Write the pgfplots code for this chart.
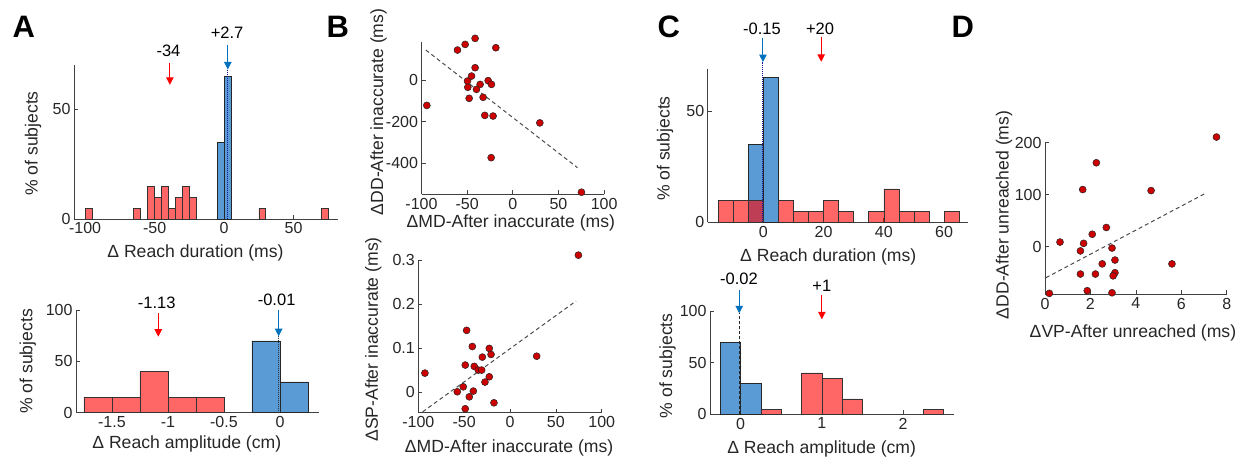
\documentclass[border=0pt]{standalone}
\usepackage{fontspec}
\setmainfont{Liberation Sans}
\usepackage{pgfplots}
\pgfplotsset{compat=1.18}
\usetikzlibrary{arrows.meta}

\definecolor{mred}{RGB}{255,0,0}
\definecolor{mblue}{RGB}{0,114,189}
\definecolor{barblue}{RGB}{91,155,213}
\definecolor{dotred}{RGB}{204,0,0}
\definecolor{navy}{RGB}{20,20,160}
\newcommand\fs{\fontsize{16}{19}\selectfont}
\newcommand\fl{\fontsize{17.6}{20}\selectfont}
\newcommand\fa{\fontsize{16.5}{19}\selectfont}

\tikzset{
  rarrow/.style={mred, line width=1pt, -{Triangle[width=7.5pt,length=7.5pt]}},
  barrow/.style={mblue, line width=1pt, -{Triangle[width=7.5pt,length=7.5pt]}},
  meanline/.style={navy, line width=1pt, densely dotted},
}
\pgfplotsset{
  base/.style={
    scale only axis,
    anchor=south west,
    axis x line*=bottom, axis y line*=left,
    axis line style={black!75, line width=0.7pt},
    tick style={black!75, line width=0.7pt},
    tick align=inside,
    major tick length=4pt,
    tick label style={font=\fs, color=black!85},
    label style={font=\fl, color=black!85},
    /pgf/number format/assume math mode=true,
    clip=false,
  },
  redbar/.style={ybar, bar shift=0pt, fill=mred, fill opacity=0.6, draw=black!80, line width=0.6pt},
  bluebar/.style={ybar, bar shift=0pt, fill=barblue, draw=black!85, line width=0.6pt},
  dots/.style={only marks, mark=*, mark size=3.5pt, mark options={fill=dotred, draw=black!85, line width=0.5pt}},
  fit/.style={no marks, dash pattern=on 4pt off 3pt, color=black!70, line width=1pt},
}

\begin{document}
\begin{tikzpicture}
\path[use as bounding box] (0,0) rectangle (1241pt,-459pt);

\node[anchor=base west, font=\fontsize{31}{31}\selectfont\bfseries] at (9pt,-37pt) {A};
\node[anchor=base west, font=\fontsize{31}{31}\selectfont\bfseries] at (323pt,-37pt) {B};
\node[anchor=base west, font=\fontsize{31}{31}\selectfont\bfseries] at (654pt,-37pt) {C};
\node[anchor=base west, font=\fontsize{31}{31}\selectfont\bfseries] at (948pt,-37pt) {D};

% ---------- A top
\begin{axis}[base, at={(74pt,-219pt)}, width=264pt, height=154pt,
  xmin=-108, xmax=82, ymin=0, ymax=70,
  xtick={-100,-50,0,50}, ytick={0,50},
  xlabel={Δ Reach duration (ms)}, ylabel={\% of subjects},
  xlabel style={at={(axis description cs:0.46,-0.22)}, anchor=center},
  ylabel style={at={(axis description cs:-0.155,0.49)}, anchor=center}]
\addplot[bluebar, bar width=5] coordinates {(-2.5,35) (2.5,65)};
\addplot[redbar, bar width=5] coordinates {(-97.5,5) (-62.5,5) (-52.5,15) (-47.5,10) (-42.5,15) (-37.5,5) (-32.5,10) (-27.5,15) (-22.5,10) (27.5,5) (72.5,5)};
\draw[meanline] (axis cs:2.7,0) -- (axis cs:2.7,68);
\draw[rarrow] (axis cs:-39,71) -- (axis cs:-39,61);
\draw[barrow] (axis cs:2.7,79) -- (axis cs:2.7,68);
\node[anchor=base, font=\fa] at (axis cs:-40,74) {-34};
\node[anchor=base, font=\fa] at (axis cs:2.2,82) {+2.7};
\end{axis}

% ---------- A bottom
\begin{axis}[base, at={(76pt,-412.7pt)}, width=243pt, height=102.7pt,
  xmin=-1.82, xmax=0.348, ymin=0, ymax=100,
  xtick={-1.5,-1,-0.5,0}, ytick={0,50,100},
  xlabel={Δ Reach amplitude (cm)}, ylabel={\% of subjects},
  xlabel style={at={(axis description cs:0.456,-0.305)}, anchor=center},
  ylabel style={at={(axis description cs:-0.198,0.5)}, anchor=center}]
\addplot[bluebar, bar width=0.25] coordinates {(-0.125,70) (0.125,30)};
\addplot[redbar, bar width=0.25] coordinates {(-1.625,15) (-1.375,15) (-1.125,40) (-0.875,15) (-0.625,15)};
\draw[black!80, line width=1pt, densely dotted] (axis cs:-0.012,0) -- (axis cs:-0.012,75);
\draw[rarrow] (axis cs:-1.086,97) -- (axis cs:-1.086,74);
\draw[barrow] (axis cs:-0.012,100) -- (axis cs:-0.012,74.5);
\node[anchor=base, font=\fa] at (axis cs:-1.1,101) {-1.13};
\node[anchor=base, font=\fa] at (axis cs:-0.03,104) {-0.01};
\end{axis}

% ---------- B top
\begin{axis}[base, at={(421.5pt,-194.3pt)}, width=182.6pt, height=152.6pt,
  xmin=-100, xmax=100, ymin=-549, ymax=184,
  xtick={-100,-50,0,50,100}, ytick={-400,-200,0},
  xlabel={ΔMD-After inaccurate (ms)}, ylabel={ΔDD-After inaccurate (ms)},
  xlabel style={at={(axis description cs:0.489,-0.19)}, anchor=center},
  ylabel style={at={(axis description cs:-0.235,0.54)}, anchor=center}]
\addplot[fit] coordinates {(-95.3,144) (70.8,-421)};
\addplot[dots] coordinates {
(-60.6,144) (-52.2,171) (-41.3,200) (-18.6,155) (-41.3,59) (-45.2,19)
(-49.6,-5) (-27,-3) (-49.3,-35) (-35.8,-21) (-39.8,-45) (-23.4,-21)
(-47.8,-88) (-32.5,-83) (-94.2,-122) (-30.7,-170) (-21.6,-173)
(29.6,-206) (-23.7,-373) (75.2,-539)};
\end{axis}

% ---------- B bottom
\begin{axis}[base, at={(418.3pt,-412.7pt)}, width=183.4pt, height=152.7pt,
  xmin=-100, xmax=100, ymin=-0.046, ymax=0.3,
  xtick={-100,-50,0,50,100}, ytick={0,0.1,0.2,0.3},
  xlabel={ΔMD-After inaccurate (ms)}, ylabel={ΔSP-After inaccurate (ms)},
  xlabel style={at={(axis description cs:0.495,-0.231)}, anchor=center},
  ylabel style={at={(axis description cs:-0.245,0.48)}, anchor=center}]
\addplot[fit] coordinates {(-95.3,-0.044) (72,0.207)};
\addplot[dots] coordinates {
(74.6,0.311) (-47.3,0.1406) (-41.1,0.104) (-22.6,0.0997) (-20.7,0.086)
(-30.2,0.080) (29.1,0.082) (-48.8,0.062) (-39,0.059) (-34.6,0.0506)
(-30.9,0.0506) (-92.8,0.0437) (-22.6,0.0354) (-27.3,0.0234) (-51,0.0127)
(-57.5,0.0015) (-40,0.003) (-44.4,-0.010) (-17.5,-0.0235) (-48.8,-0.037)};
\end{axis}

% ---------- C top
\begin{axis}[base, at={(707.7pt,-222.3pt)}, width=260.4pt, height=153.6pt,
  xmin=-18.5, xmax=68, ymin=0, ymax=69,
  xtick={0,20,40,60}, ytick={0,50},
  xlabel={Δ Reach duration (ms)}, ylabel={\% of subjects},
  xlabel style={at={(axis description cs:0.463,-0.224)}, anchor=center},
  ylabel style={at={(axis description cs:-0.164,0.48)}, anchor=center}]
\addplot[bluebar, bar width=5] coordinates {(-2.5,35) (2.5,65)};
\addplot[redbar, bar width=5] coordinates {(-12.5,10) (-7.5,10) (-2.5,10) (7.5,10) (12.5,5) (17.5,5) (22.5,10) (27.5,5) (37.5,5) (42.5,15) (47.5,5) (52.5,5) (62.5,5)};
\draw[meanline] (axis cs:-0.15,0) -- (axis cs:-0.15,72);
\draw[barrow] (axis cs:-0.15,82.7) -- (axis cs:-0.15,72);
\draw[rarrow] (axis cs:19.2,83.4) -- (axis cs:19.2,72.1);
\node[anchor=base, font=\fa] at (axis cs:-0.5,84.5) {-0.15};
\node[anchor=base, font=\fa] at (axis cs:18.8,84.5) {+20};
\end{axis}

% ---------- C bottom
\begin{axis}[base, at={(710pt,-414.3pt)}, width=244.3pt, height=103.3pt,
  xmin=-0.377, xmax=2.63, ymin=0, ymax=100,
  xtick={0,1,2}, ytick={0,50,100},
  xlabel={Δ Reach amplitude (cm)}, ylabel={\% of subjects},
  xlabel style={at={(axis description cs:0.457,-0.336)}, anchor=center},
  ylabel style={at={(axis description cs:-0.174,0.47)}, anchor=center}]
\addplot[bluebar, bar width=0.25] coordinates {(-0.125,70) (0.125,30)};
\addplot[redbar, bar width=0.25] coordinates {(0.375,5) (0.875,40) (1.125,35) (1.375,15) (2.375,5)};
\draw[black!85, line width=1pt, densely dashed] (axis cs:-0.017,0) -- (axis cs:-0.017,98);
\draw[barrow] (axis cs:-0.017,120) -- (axis cs:-0.017,97.8);
\draw[rarrow] (axis cs:1.0,115.5) -- (axis cs:1.0,92);
\node[anchor=base, font=\fa] at (axis cs:-0.02,125.2) {-0.02};
\node[anchor=base, font=\fa] at (axis cs:1.0,118.7) {+1};
\end{axis}

% ---------- D
\begin{axis}[base, at={(1045pt,-294.3pt)}, width=181.7pt, height=152.6pt,
  xmin=0, xmax=8, ymin=-91.5, ymax=202,
  xtick={0,2,4,6,8}, ytick={0,100,200},
  xlabel={ΔVP-After unreached (ms)}, ylabel={ΔDD-After unreached (ms)},
  xlabel style={at={(axis description cs:0.484,-0.254)}, anchor=center},
  ylabel style={at={(axis description cs:-0.226,0.52)}, anchor=center}]
\addplot[fit] coordinates {(0.04,-59.6) (7.12,104)};
\addplot[dots] coordinates {
(7.55,211) (2.26,161.5) (1.66,110) (4.67,108) (2.7,37) (2.08,24)
(0.66,9) (1.7,6.5) (2.95,-2.5) (1.56,-8) (3.08,-25.6) (2.52,-33)
(5.59,-33) (1.56,-52.5) (2.22,-52.5) (3.08,-50) (3.0,-56)
(1.86,-84.6) (0.19,-89.7) (2.95,-88.5)};
\end{axis}

\end{tikzpicture}
\end{document}
